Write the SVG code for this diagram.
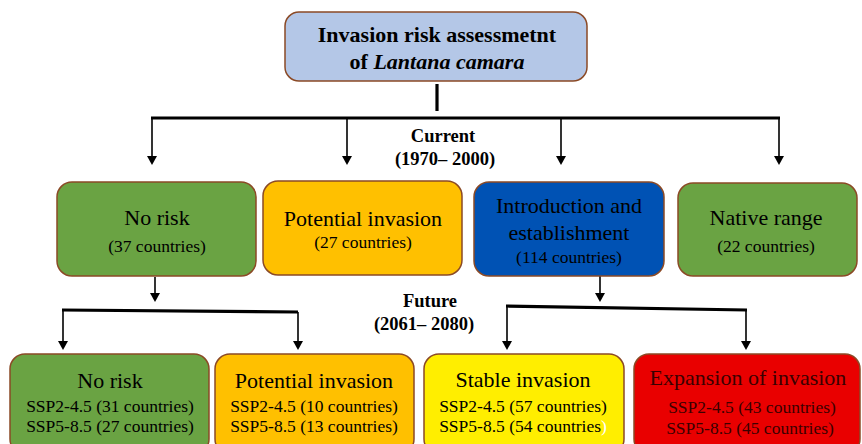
<svg xmlns="http://www.w3.org/2000/svg" width="862" height="444" viewBox="0 0 862 444">
<style>
.box{stroke:#8B4A26;stroke-width:1.5}
.t{font-family:"Liberation Serif","Times New Roman",serif;text-anchor:middle;fill:#000}
.b{font-weight:bold}
.l{font-size:22px}
.s{font-size:17.5px}
.line{stroke:#000;fill:none;stroke-width:1.6}
.thick{stroke:#000;fill:none;stroke-width:3.2}
</style>
<defs>
<marker id="arr" viewBox="0 0 10 10" refX="5" refY="10" markerWidth="10" markerHeight="10" markerUnits="userSpaceOnUse" orient="auto-start-reverse">
<path d="M0,0 L10,0 L5,10 z" fill="#000" transform="rotate(0)"/>
</marker>
</defs>
<g id="connectors">
<line class="thick" x1="437" y1="84" x2="437" y2="111"/>
<line class="thick" x1="151" y1="118" x2="780" y2="118"/>
<path class="line" d="M152,118 V163"/>
<path d="M147,156 L157,156 L152,165 z"/>
<path class="line" d="M347,118 V163"/>
<path d="M342,156 L352,156 L347,165 z"/>
<path class="line" d="M561,118 V163"/>
<path d="M556,156 L566,156 L561,165 z"/>
<path class="line" d="M779,118 V163"/>
<path d="M774,156 L784,156 L779,165 z"/>
<path class="line" d="M155,277 V300"/>
<path d="M150,293 L160,293 L155,302 z"/>
<path class="thick" d="M62,310 L298,312"/>
<path class="line" d="M63,310 V348"/>
<path d="M58,341 L68,341 L63,350 z"/>
<path class="line" d="M298,312 V348"/>
<path d="M293,341 L303,341 L298,350 z"/>
<path class="line" d="M600,276 V300"/>
<path d="M595,293 L605,293 L600,302 z"/>
<path class="thick" d="M506,306 L747,310"/>
<path class="line" d="M507,307 V348"/>
<path d="M502,341 L512,341 L507,350 z"/>
<path class="line" d="M746,310 V348"/>
<path d="M741,341 L751,341 L746,350 z"/>
</g>
<g id="root">
<rect class="box" x="285" y="12" width="302" height="69" rx="14" fill="#B4C7E7"/>
<text class="t b l" x="437" y="42">Invasion risk assessmetnt</text>
<text class="t b l" x="437" y="69">of <tspan font-style="italic">Lantana camara</tspan></text>
</g>
<g id="label-current">
<text class="t b" font-size="18.5" x="443" y="142">Current</text>
<text class="t b" font-size="18.5" x="445" y="165">(1970– 2000)</text>
</g>
<g id="label-future">
<text class="t b" font-size="18.5" x="430" y="307">Future</text>
<text class="t b" font-size="18.5" x="424" y="330">(2061– 2080)</text>
</g>
<g id="cur-norisk">
<rect class="box" x="57" y="182" width="199" height="94" rx="15" fill="#6AA343"/>
<text class="t l" x="157" y="225">No risk</text>
<text class="t s" x="157" y="252">(37 countries)</text>
</g>
<g id="cur-potential">
<rect class="box" x="263" y="181" width="199" height="94" rx="15" fill="#FFC000"/>
<text class="t l" x="363" y="226">Potential invasion</text>
<text class="t s" x="363" y="248">(27 countries)</text>
</g>
<g id="cur-intro">
<rect class="box" x="474" y="182" width="190" height="94" rx="15" fill="#0052B4"/>
<text class="t l" x="569" y="213">Introduction and</text>
<text class="t l" x="569" y="240">establishment</text>
<text class="t s" x="569" y="263">(114 countries)</text>
</g>
<g id="cur-native">
<rect class="box" x="678" y="183" width="179" height="93" rx="15" fill="#6AA343"/>
<text class="t l" x="766" y="225">Native range</text>
<text class="t s" x="766" y="252">(22 countries)</text>
</g>
<g id="fut-norisk">
<rect class="box" x="10" y="354" width="199" height="100" rx="15" fill="#6AA343"/>
<text class="t l" x="110" y="388">No risk</text>
<text class="t s" x="110" y="412">SSP2-4.5 (31 countries)</text>
<text class="t s" x="110" y="432">SSP5-8.5 (27 countries)</text>
</g>
<g id="fut-potential">
<rect class="box" x="215" y="354" width="199" height="100" rx="15" fill="#FFC000"/>
<text class="t l" x="314" y="388">Potential invasion</text>
<text class="t s" x="314" y="412">SSP2-4.5 (10 countries)</text>
<text class="t s" x="314" y="432">SSP5-8.5 (13 countries)</text>
</g>
<g id="fut-stable">
<rect class="box" x="424" y="354" width="200" height="100" rx="15" fill="#FFEE00"/>
<text class="t l" x="523" y="387">Stable invasion</text>
<text class="t s" x="523" y="412">SSP2-4.5 (57 countries)</text>
<text class="t s" x="523" y="432">SSP5-8.5 (54 countries<tspan fill="#FFFFFF">)</tspan></text>
</g>
<g id="fut-expansion">
<rect class="box" x="634" y="354" width="226" height="100" rx="15" fill="#E90000"/>
<text class="t l" x="748" y="385" fill="#3A0000" style="fill:#3A0000">Expansion of invasion</text>
<text class="t s" x="752" y="413" style="fill:#3A0000">SSP2-4.5 (43 countries)</text>
<text class="t s" x="750" y="434" style="fill:#3A0000">SSP5-8.5 (45 countries)</text>
</g>
</svg>
